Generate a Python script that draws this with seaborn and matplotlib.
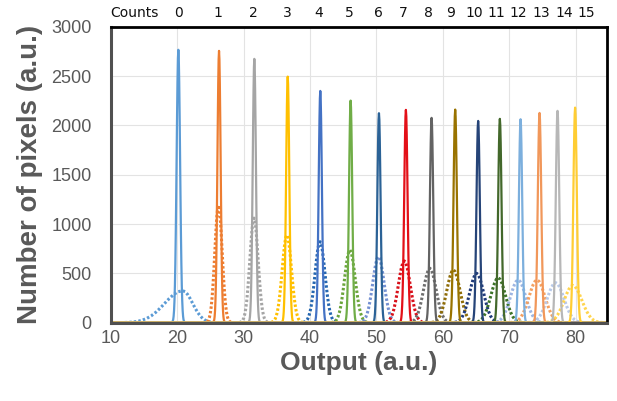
import numpy as np
import pandas as pd
import matplotlib
matplotlib.use("Agg")
import matplotlib.pyplot as plt
import matplotlib.transforms as mtransforms
import seaborn as sns

# ---- data -------------------------------------------------------------
counts = list(range(16))

# narrow (solid) peaks: centre, height, width (sigma)
sharp_center = [20.15, 26.28, 31.6, 36.63, 41.54, 46.11, 50.38, 54.44,
                58.31, 61.87, 65.33, 68.6, 71.72, 74.58, 77.29, 79.94]
sharp_height = [2766, 2755, 2674, 2494, 2349, 2251, 2123, 2157,
                2076, 2160, 2045, 2066, 2062, 2126, 2147, 2180]
sharp_sigma = [0.26, 0.24, 0.24, 0.24, 0.24, 0.24, 0.24, 0.25,
               0.25, 0.25, 0.25, 0.25, 0.25, 0.26, 0.26, 0.26]

# broad (dotted) peaks: centre, height, left / right width
broad_center = [20.8, 26.2, 31.55, 36.5, 41.5, 46.0, 50.3, 54.2,
                58.05, 61.6, 65.1, 68.35, 71.35, 74.2, 77.0, 79.6]
broad_height = [324, 1190, 1060, 889, 821, 737, 669, 626,
                552, 535, 501, 455, 433, 433, 406, 378]
broad_sigma_left = [2.7, 0.55, 0.62, 0.7, 0.75, 0.8, 0.85, 0.9,
                    0.95, 1.0, 1.05, 1.1, 1.15, 1.2, 1.25, 1.3]
broad_sigma_right = [1.5, 0.55, 0.62, 0.7, 0.75, 0.8, 0.85, 0.9,
                     0.95, 1.0, 1.05, 1.1, 1.15, 1.2, 1.25, 1.35]

# normalised peak profile (offset in widths, relative height)
profile_u = [-4.0, -3.5, -3.0, -2.75, -2.5, -2.25, -2.0, -1.75, -1.5, -1.25,
             -1.0, -0.75, -0.5, -0.25, 0.0, 0.25, 0.5, 0.75, 1.0, 1.25,
             1.5, 1.75, 2.0, 2.25, 2.5, 2.75, 3.0, 3.5, 4.0]
profile_v = [0.0, 0.002, 0.011, 0.023, 0.044, 0.080, 0.135, 0.216, 0.325, 0.458,
             0.607, 0.755, 0.882, 0.969, 1.0, 0.969, 0.882, 0.755, 0.607, 0.458,
             0.325, 0.216, 0.135, 0.080, 0.044, 0.023, 0.011, 0.002, 0.0]

# positions of the count labels along the top
count_label_x = [20.15, 26.17, 31.44, 36.63, 41.34, 45.9, 50.27, 54.04,
                 57.8, 61.22, 64.73, 68.0, 71.35, 74.87, 78.24, 81.55]

sharp_colors = ["#5B9BD5", "#ED7D31", "#A5A5A5", "#FFC000", "#4472C4", "#70AD47",
                "#2B6296", "#E31018", "#636363", "#997300", "#264478", "#43682B",
                "#7CAFDD", "#F1975A", "#B7B7B7", "#FFCD33"]
broad_colors = ["#5B9BD5", "#ED7D31", "#A5A5A5", "#FFC000", "#2466B0", "#6AA43A",
                "#7390D2", "#D8101A", "#6E6E6E", "#8E6C08", "#1F3A7A", "#3C7428",
                "#9DB5E2", "#F4A060", "#B8C9E8", "#FFD54F"]

X_MIN, X_MAX = 10, 84.7


def peak_frame(center, height, sl, sr):
    xs = [X_MIN]
    ys = [0.0]
    for u, v in zip(profile_u, profile_v):
        w = sl if u < 0 else sr
        x = center + u * w
        if X_MIN < x < X_MAX:
            xs.append(x)
            ys.append(height * v)
    xs.append(X_MAX)
    ys.append(0.0)
    return pd.DataFrame({"Output": xs, "Pixels": ys})


# ---- figure -----------------------------------------------------------
sns.set_theme(style="white")
plt.rcParams["font.family"] = ["Liberation Sans", "DejaVu Sans"]

fig = plt.figure(figsize=(6.17, 4.01), dpi=100)
ax = fig.add_axes([0.1799, 0.1953, 0.8034, 0.7381])

for i in counts:
    df = peak_frame(broad_center[i], broad_height[i],
                    broad_sigma_left[i], broad_sigma_right[i])
    sns.lineplot(data=df, x="Output", y="Pixels", ax=ax, color=broad_colors[i],
                 linewidth=2.2, linestyle=(0, (0.8, 0.7)), sort=False,
                 estimator=None)

for i in counts:
    df = peak_frame(sharp_center[i], sharp_height[i],
                    sharp_sigma[i], sharp_sigma[i])
    sns.lineplot(data=df, x="Output", y="Pixels", ax=ax, color=sharp_colors[i],
                 linewidth=1.6, sort=False, estimator=None)

ax.set_xlim(X_MIN, X_MAX)
ax.set_ylim(0, 3000)
ax.set_xticks(np.arange(10, 81, 10))
ax.set_yticks(np.arange(0, 3001, 500))
ax.grid(True, color="#E3E3E3", linewidth=0.8)
ax.set_axisbelow(True)

ax.tick_params(axis="both", labelsize=13, labelcolor="#595959",
               length=0)
ax.tick_params(axis="y", pad=14)
ax.tick_params(axis="x", pad=5)

ax.set_xlabel("Output (a.u.)", fontsize=19, fontweight="bold",
              color="#595959", labelpad=3)
ax.set_ylabel("Number of pixels (a.u.)", fontsize=20, fontweight="bold",
              color="#595959", labelpad=6)

for side in ["left", "bottom"]:
    ax.spines[side].set_color("#505050")
    ax.spines[side].set_linewidth(2.2)
for side in ["top", "right"]:
    ax.spines[side].set_color("#000000")
    ax.spines[side].set_linewidth(2.0)

# count labels above the plot
trans = mtransforms.blended_transform_factory(ax.transData, fig.transFigure)
ax.text(9.87, 0.967, "Counts", transform=trans, ha="left", va="center",
        fontsize=10, family="DejaVu Sans", color="#111111")
for c, xp in zip(counts, count_label_x):
    ax.text(xp, 0.967, str(c), transform=trans, ha="center", va="center",
            fontsize=10, family="DejaVu Sans", color="#111111")

fig.savefig("out.png", dpi=100, facecolor="white")
